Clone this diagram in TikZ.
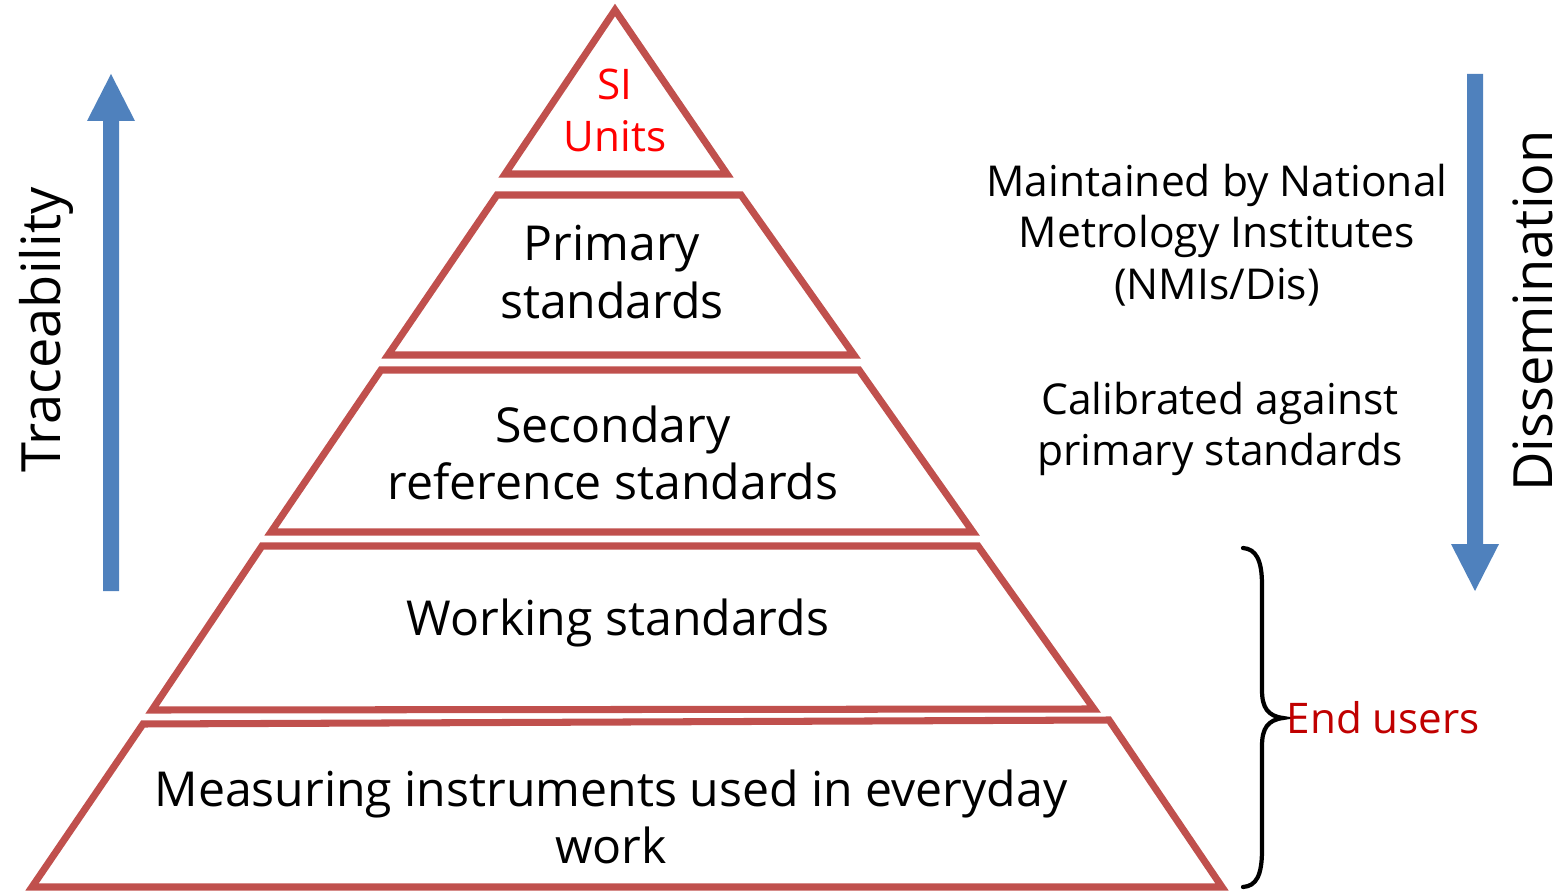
\documentclass[tikz,border=0pt]{standalone}
\usepackage{fontspec}
\setmainfont{Open Sans}
\definecolor{tierred}{HTML}{C0504D}
\definecolor{arrowblue}{HTML}{4F81BD}
\definecolor{siRed}{HTML}{FF0000}
\definecolor{userRed}{HTML}{C00000}
\begin{document}
\begin{tikzpicture}[x=0.01cm,y=-0.01cm,
  tier/.style={draw=tierred, line width=2pt, line join=miter},
  lbl/.style={align=center, inner sep=0, font=\fontsize{13.7}{16.4}\selectfont},
  side/.style={align=center, inner sep=0, font=\fontsize{12.1}{14.6}\selectfont},
  axis/.style={inner sep=0, rotate=90, font=\fontsize{15.4}{17}\selectfont},
  bigarrow/.style={fill=arrowblue, draw=none}]
\useasboundingbox (0,0) rectangle (1557,891);

% pyramid tiers, top to bottom
\draw[tier] (615,10) -- (727,174) -- (505,174) -- cycle;
\draw[tier] (497,195) -- (741,195) -- (854,355) -- (388,355) -- cycle;
\draw[tier] (381,370) -- (859,370) -- (973,532) -- (271,532) -- cycle;
\draw[tier] (262,546) -- (978,546) -- (1094,709) -- (152,710) -- cycle;
\draw[tier] (143,724) -- (1109,720) -- (1222,887) -- (32,887) -- cycle;

% tier labels
\node[lbl, text=siRed, font=\fontsize{12}{14.8}\selectfont] (si) at (615,110) {SI\\Units};
\node[lbl] (primary) at (612,272) {Primary\\standards};
\node[lbl] (secondary) at (613,453) {Secondary\\reference standards};
\node[lbl] (working) at (618,623) {Working standards};
\node[lbl] (measuring) at (611,817) {Measuring instruments used in everyday\\work};

% notes on the right
\node[side] (nmi) at (1217,235) {Maintained by National\\Metrology Institutes\\(NMIs/Dis)};
\node[side] (calib) at (1220,429) {Calibrated against\\primary standards};

% traceability arrow (up) and dissemination arrow (down)
\fill[bigarrow] (103,591) -- (119,591) -- (119,121) -- (135,121) -- (111,74)
  -- (87,121) -- (103,121) -- cycle;
\fill[bigarrow] (1467,74) -- (1483,74) -- (1483,544) -- (1499,544) -- (1475,591)
  -- (1451,544) -- (1467,544) -- cycle;
\node[axis] (trace) at (46,330) {Traceability};
\node[axis] (dissem) at (1533,311) {Dissemination};

% end-user brace
\coordinate (btop) at (1243,548);
\coordinate (btip) at (1283,718);
\coordinate (bbot) at (1243,887);
\draw[line width=1.2pt, line cap=round]
  (btop) .. controls (1256,549) and (1262,560) .. (1262,585)
  -- (1262,690) .. controls (1262,708) and (1268,716) .. (btip)
  .. controls (1268,720) and (1262,728) .. (1262,746)
  -- (1262,850) .. controls (1262,876) and (1256,886) .. (bbot);
\node[side, text=userRed, anchor=west, font=\fontsize{12}{14}\selectfont] (users) at (1286,718) {End users};
\end{tikzpicture}
\end{document}
